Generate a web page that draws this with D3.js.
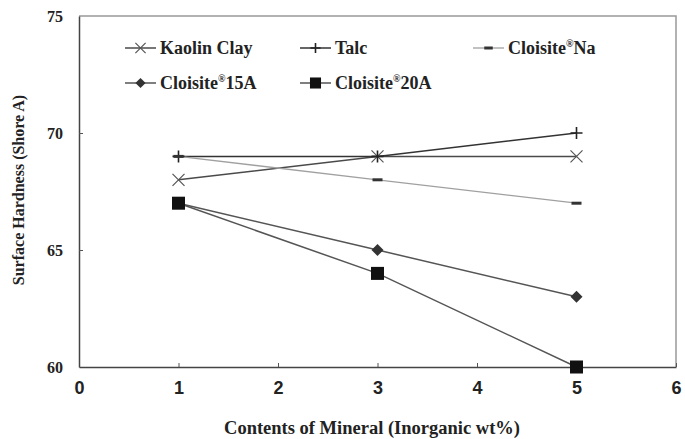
<!DOCTYPE html>
<html><head><meta charset="utf-8">
<script src="https://cdn.jsdelivr.net/npm/d3@7"></script>
<style>body{margin:0;background:#fff}svg{display:block}
.serif{font-family:'Liberation Serif','Times New Roman',serif;font-weight:bold}
.sans{font-family:'Liberation Sans',Arial,sans-serif;font-weight:bold}
</style>
</head><body>
<script>
const xValues = [1, 3, 5];
const kaolin = [68, 69, 69];
const talc = [69, 69, 70];
const cloisiteNa = [69, 68, 67];
const cloisite15A = [67, 65, 63];
const cloisite20A = [67, 64, 60];
const xTicks = [0, 1, 2, 3, 4, 5, 6];
const yTicks = [60, 65, 70, 75];

const series = [
  {name: "Kaolin Clay", sup: null, after: null, values: kaolin, marker: "x", color: "#4a4a4a", lw: 1.5},
  {name: "Talc", sup: null, after: null, values: talc, marker: "plus", color: "#333", lw: 1.5},
  {name: "Cloisite", sup: "®", after: "Na", values: cloisiteNa, marker: "dash", color: "#a0a0a0", lw: 1.3},
  {name: "Cloisite", sup: "®", after: "15A", values: cloisite15A, marker: "diamond", color: "#555", lw: 1.5},
  {name: "Cloisite", sup: "®", after: "20A", values: cloisite20A, marker: "square", color: "#555", lw: 1.5}
];

const W = 685, H = 439;
const m = {left: 79, right: 9, top: 16, bottom: 72};
const svg = d3.select("body").append("svg").attr("width", W).attr("height", H);
const x = d3.scaleLinear().domain([0, 6]).range([m.left, W - m.right]);
const y = d3.scaleLinear().domain([60, 75]).range([H - m.bottom, m.top]);

// frame top/right
svg.append("path")
  .attr("d", `M${x(0)},${y(75)}H${x(6)}V${y(60)}`)
  .attr("fill", "none").attr("stroke", "#999").attr("stroke-width", 1.5);

// axes
const xAxis = svg.append("g").attr("transform", `translate(0,${y(60)})`)
  .call(d3.axisBottom(x).tickValues(xTicks).tickFormat(d3.format("d")).tickSizeInner(-4).tickSizeOuter(0).tickPadding(14));
const yAxis = svg.append("g").attr("transform", `translate(${x(0)},0)`)
  .call(d3.axisLeft(y).tickValues(yTicks).tickFormat(d3.format("d")).tickSizeInner(-4).tickSizeOuter(0).tickPadding(16));
[xAxis, yAxis].forEach(g => {
  g.attr("font-family", null).attr("font-size", null);
  g.select(".domain").attr("stroke", "#444").attr("stroke-width", 1.5);
  g.selectAll(".tick line").attr("stroke", "#555").attr("stroke-width", 1);
});
xAxis.selectAll(".tick text").attr("class", "sans").style("font-size", "18px").attr("fill", "#222");
yAxis.selectAll(".tick text").attr("class", "serif").style("font-size", "16px").attr("fill", "#222");
xAxis.selectAll(".tick").filter(d => d === 0).select("line").remove();
yAxis.selectAll(".tick").filter(d => d === 60 || d === 75).select("line").remove();

// axis titles
svg.append("text").attr("class", "serif").attr("x", 372).attr("y", 434).attr("text-anchor", "middle")
  .style("font-size", "18.5px").attr("fill", "#222").text("Contents of Mineral (Inorganic wt%)");
svg.append("text").attr("class", "serif").attr("transform", `translate(24,${190}) rotate(-90)`).attr("text-anchor", "middle")
  .style("font-size", "16px").attr("fill", "#222").text("Surface Hardness (Shore A)");

function drawMarker(g, type, cx, cy, scale) {
  const s = scale || 1;
  if (type === "x") {
    const r = 6 * s;
    g.append("path").attr("d", `M${cx - r},${cy - r}L${cx + r},${cy + r}M${cx - r},${cy + r}L${cx + r},${cy - r}`)
      .attr("stroke", "#555").attr("stroke-width", 1.2).attr("fill", "none");
  } else if (type === "plus") {
    const r = 6 * s;
    g.append("path").attr("d", `M${cx - r},${cy}H${cx + r}M${cx},${cy - r}V${cy + r}`)
      .attr("stroke", "#222").attr("stroke-width", 1.6).attr("fill", "none");
  } else if (type === "dash") {
    g.append("rect").attr("x", cx - 5 * s).attr("y", cy - 1.5).attr("width", 10 * s).attr("height", 3)
      .attr("fill", "#333");
  } else if (type === "diamond") {
    const r = 6 * s;
    g.append("path").attr("d", `M${cx},${cy - r}L${cx + r},${cy}L${cx},${cy + r}L${cx - r},${cy}Z`)
      .attr("fill", "#333");
  } else if (type === "square") {
    const r = 6.5 * s;
    g.append("rect").attr("x", cx - r).attr("y", cy - r).attr("width", 2 * r).attr("height", 2 * r)
      .attr("fill", "#111");
  }
}

const line = d3.line().x(d => x(d[0])).y(d => y(d[1]));
const plot = svg.append("g");
series.forEach(s => {
  const pts = xValues.map((v, i) => [v, s.values[i]]);
  plot.append("path").datum(pts).attr("d", line).attr("fill", "none")
    .attr("stroke", s.color).attr("stroke-width", s.lw);
});
series.forEach(s => {
  xValues.forEach((v, i) => drawMarker(plot, s.marker, x(v), y(s.values[i]), 1));
});

// legend
const legendPos = [[125, 48], [300, 48], [473, 48], [125, 83], [300, 83]];
series.forEach((s, i) => {
  const [lx, ly] = legendPos[i];
  const g = svg.append("g");
  g.append("line").attr("x1", lx).attr("x2", lx + 31).attr("y1", ly).attr("y2", ly)
    .attr("stroke", s.color).attr("stroke-width", s.lw);
  drawMarker(g, s.marker, lx + 15.5, ly, 0.85);
  const t = g.append("text").attr("class", "serif").attr("x", lx + 35).attr("y", ly + 6)
    .style("font-size", "18px").attr("fill", "#222");
  t.append("tspan").text(s.name);
  if (s.sup) {
    t.append("tspan").style("font-size", "10px").attr("dy", -7).text(s.sup);
    t.append("tspan").attr("dy", 7).text(s.after);
  }
});
</script>
</body></html>
